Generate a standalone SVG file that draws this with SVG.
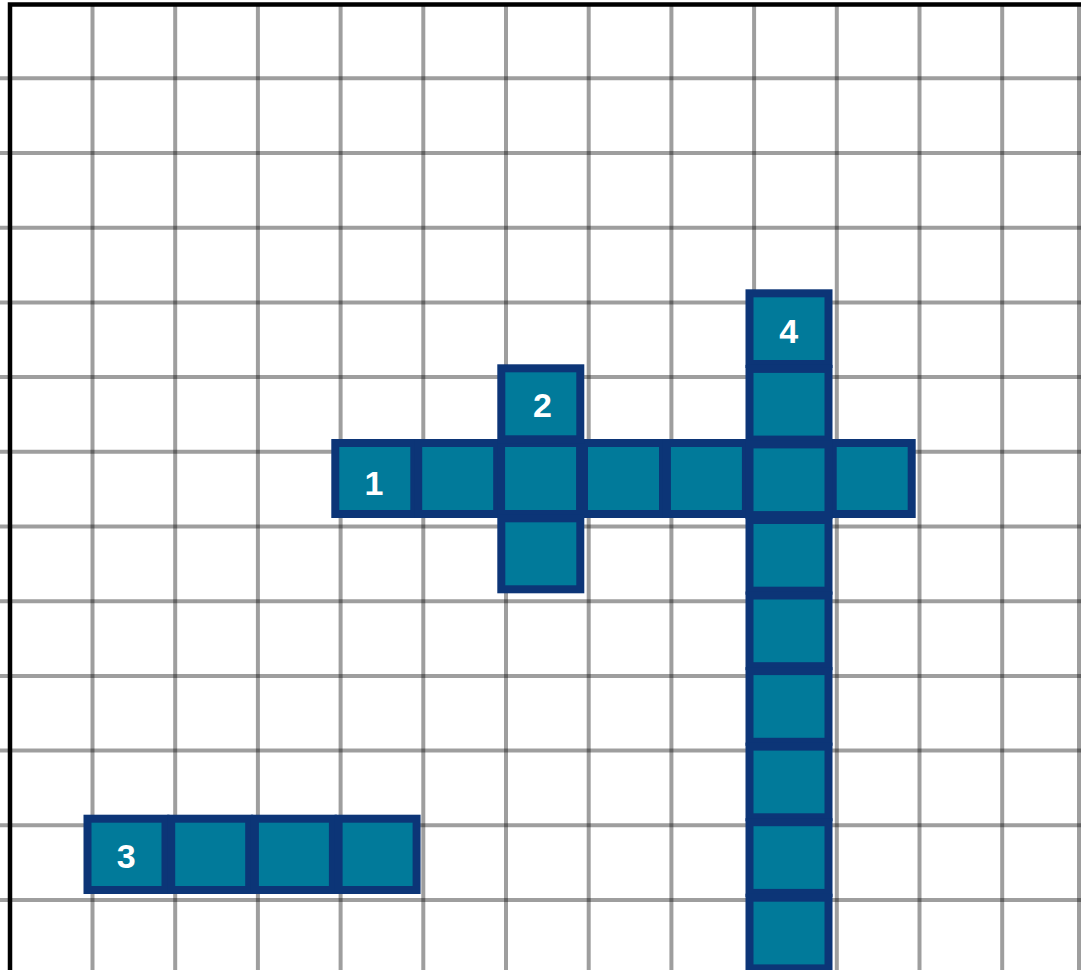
<svg xmlns="http://www.w3.org/2000/svg" width="1081" height="970" viewBox="0 0 1081 970">
<style>
.g{stroke:#000;stroke-opacity:0.38;stroke-width:4;fill:none}
.b{stroke:#000;stroke-width:4.5;fill:none}
.c{fill:#017a9a;stroke:#0c3577;stroke-width:8}
.t{font-family:"Liberation Sans",Arial,sans-serif;font-weight:bold;font-size:34px;fill:#fff;text-anchor:middle}
</style>
<rect width="1081" height="970" fill="#fff"/>
<g id="grid">
<path class="g" d="M92.5 6V970M175.2 6V970M257.9 6V970M340.6 6V970M423.3 6V970M506 6V970M588.7 6V970M671.4 6V970M754.1 6V970M836.8 6V970M919.5 6V970M1002.2 6V970M1079 6V970"/>
<path class="g" d="M0 78.3H1081M0 153H1081M0 227.7H1081M0 302.4H1081M0 377.1H1081M0 451.8H1081M0 526.5H1081M0 601.2H1081M0 675.9H1081M0 750.6H1081M0 825.3H1081M0 900H1081"/>
<path class="b" d="M10 970V4.5H1081"/>
</g>
<g id="word1">
<rect class="c" x="335.3" y="443" width="79" height="71"/>
<rect class="c" x="418.2" y="443" width="79" height="71"/>
<rect class="c" x="501.1" y="443" width="79" height="71"/>
<rect class="c" x="584" y="443" width="79" height="71"/>
<rect class="c" x="666.9" y="443" width="79" height="71"/>
<rect class="c" x="832.7" y="443" width="79" height="71"/>
<text class="t" x="374" y="495">1</text>
</g>
<g id="word2">
<rect class="c" x="501.3" y="368.3" width="79" height="71"/>
<rect class="c" x="501.3" y="518.3" width="79" height="71"/>
<text class="t" x="542.5" y="416.5">2</text>
</g>
<g id="word3">
<rect class="c" x="87.5" y="818.7" width="78" height="71.3"/>
<rect class="c" x="171.2" y="818.7" width="78" height="71.3"/>
<rect class="c" x="254.9" y="818.7" width="78" height="71.3"/>
<rect class="c" x="338.6" y="818.7" width="78" height="71.3"/>
<text class="t" x="126.3" y="867.5">3</text>
</g>
<g id="word4">
<rect class="c" x="749.5" y="293.3" width="79" height="70.7"/>
<rect class="c" x="749.5" y="368.9" width="79" height="70.7"/>
<rect class="c" x="749.5" y="444.4" width="79" height="70.7"/>
<rect class="c" x="749.5" y="520" width="79" height="70.7"/>
<rect class="c" x="749.5" y="595.5" width="79" height="70.7"/>
<rect class="c" x="749.5" y="671.1" width="79" height="70.7"/>
<rect class="c" x="749.5" y="746.6" width="79" height="70.7"/>
<rect class="c" x="749.5" y="822.2" width="79" height="70.7"/>
<rect class="c" x="749.5" y="897.7" width="79" height="70.7"/>
<text class="t" x="788.8" y="343">4</text>
</g>
</svg>
